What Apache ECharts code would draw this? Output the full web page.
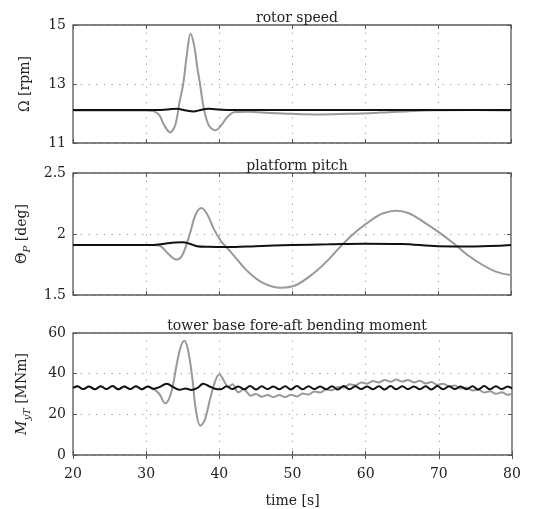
<!DOCTYPE html>
<html><head><meta charset="utf-8">
<script src="https://cdn.jsdelivr.net/npm/echarts@6/dist/echarts.min.js"></script>
<style>html,body{margin:0;padding:0;background:#fff}#c{width:548px;height:509px}</style>
</head><body><div id="c"></div>
<script>
// ---- data ----
const titles = ['rotor speed', 'platform pitch', 'tower base fore-aft bending moment'];
const xTicks = [20, 30, 40, 50, 60, 70, 80];

// rotor speed [rpm]
const rotorGrayT = [20, 30, 31, 31.8, 32.5, 33.3, 34.0, 34.6, 35.1, 35.6, 36.1, 36.6, 37.0, 37.4, 37.9, 38.6, 39.5, 40.3, 41.2, 42.2, 44, 47, 50, 54, 58, 62, 66, 70, 75, 80];
const rotorGrayV = [12.1, 12.1, 12.08, 11.95, 11.6, 11.36, 11.6, 12.4, 13.0, 14.0, 14.7, 14.3, 13.6, 13.0, 12.2, 11.6, 11.43, 11.6, 11.9, 12.05, 12.06, 12.02, 11.99, 11.97, 11.99, 12.03, 12.08, 12.11, 12.12, 12.1];
const rotorBlackT = [20, 30, 32, 33.5, 34.2, 35.5, 36.5, 37.5, 38.5, 39.5, 41, 50, 80];
const rotorBlackV = [12.12, 12.12, 12.12, 12.15, 12.16, 12.1, 12.07, 12.12, 12.16, 12.14, 12.12, 12.12, 12.12];

// platform pitch [deg]
const pitchGrayT = [20, 31, 32, 33, 34.2, 35.0, 36.0, 36.8, 37.6, 38.4, 39.3, 40.3, 41.2, 42.5, 44, 46, 48.4, 50.5, 53, 55, 57, 59, 61, 62.5, 64.3, 66, 68, 70, 72, 74, 76, 78, 80];
const pitchGrayV = [1.91, 1.91, 1.9, 1.84, 1.79, 1.83, 2.0, 2.16, 2.214, 2.16, 2.04, 1.94, 1.88, 1.79, 1.69, 1.6, 1.56, 1.58, 1.68, 1.79, 1.92, 2.03, 2.12, 2.17, 2.19, 2.17, 2.1, 2.02, 1.93, 1.83, 1.75, 1.69, 1.664];
const pitchBlackT = [20, 31, 32.5, 34, 35, 36, 37, 38.5, 41, 45, 50, 55, 60, 65, 70, 75, 80];
const pitchBlackV = [1.91, 1.91, 1.92, 1.93, 1.932, 1.92, 1.9, 1.895, 1.893, 1.9, 1.91, 1.915, 1.92, 1.918, 1.9, 1.898, 1.91];

// tower base moment [MNm]
const towerBlackT = [20.0, 20.6, 21.4, 22.2, 23.0, 23.8, 24.6, 25.4, 26.2, 27.0, 27.8, 28.6, 29.4, 30.2, 31.0, 31.8, 32.8, 33.8, 34.6, 35.4, 36.2, 37.0, 37.8, 38.6, 39.4,
  40.2, 41.0, 41.8, 42.6, 43.4, 44.2, 45.0, 45.8, 46.6, 47.4, 48.2, 49.0, 49.8, 50.6, 51.4, 52.2, 53.0, 53.8, 54.6, 55.4, 56.2, 57.0, 57.8, 58.6, 59.4,
  60.2, 61.0, 61.8, 62.6, 63.4, 64.2, 65.0, 65.8, 66.6, 67.4, 68.2, 69.0, 69.8, 70.6, 71.4, 72.2, 73.0, 73.8, 74.6, 75.4, 76.2, 77.0, 77.8, 78.6, 79.4, 80.0];
const towerBlackV = [33.0, 33.8, 32.4, 33.7, 32.3, 33.8, 32.4, 33.9, 32.3, 33.7, 32.4, 33.8, 32.3, 33.7, 32.5, 33.4, 35.0, 33.2, 32.1, 32.7, 32.0, 33.0, 35.0, 33.8, 32.6,
  32.3, 33.8, 32.4, 33.7, 32.3, 33.9, 32.2, 33.8, 32.4, 33.7, 32.3, 33.8, 32.2, 33.9, 32.3, 33.8, 32.4, 33.7, 32.3, 33.8, 32.2, 33.9, 32.3, 33.8, 32.4,
  33.7, 32.3, 33.8, 32.2, 33.9, 32.3, 33.8, 32.4, 33.7, 32.3, 33.8, 32.2, 33.9, 32.3, 33.8, 32.4, 33.7, 32.3, 33.8, 32.2, 33.9, 32.3, 33.8, 32.4, 33.7, 32.8];
const towerGrayT = [20.0, 20.6, 21.4, 22.2, 23.0, 23.8, 24.6, 25.4, 26.2, 27.0, 27.8, 28.6, 29.4, 30.2, 31.0,
  31.8, 32.6, 33.4, 34.2, 34.7, 35.2, 35.7, 36.3, 36.8, 37.4, 38.0, 38.7, 39.4, 40.0, 40.7, 41.2, 41.8, 42.6, 43.3, 44.3,
  45.0, 45.8, 46.6, 47.4, 48.2, 49.0, 49.8, 50.6, 51.4, 52.2, 53.0, 53.8, 54.6, 55.4, 56.2, 57.0, 57.8, 58.6, 59.4,
  60.2, 61.0, 61.8, 62.6, 63.4, 64.2, 65.0, 65.8, 66.6, 67.4, 68.2, 69.0, 69.8, 70.6, 71.4, 72.2, 73.0, 73.8, 74.6, 75.4, 76.2, 77.0, 77.8, 78.6, 79.4, 80.0];
const towerGrayV = [33.0, 33.8, 32.4, 33.7, 32.3, 33.8, 32.4, 33.9, 32.3, 33.7, 32.4, 33.8, 32.3, 33.7, 32.5,
  30.0, 25.4, 30.5, 45.0, 53.0, 56.2, 52.0, 38.0, 22.0, 14.4, 17.0, 27.0, 36.0, 39.7, 36.0, 33.5, 34.8, 30.8, 32.3, 29.2,
  30.0, 28.7, 29.5, 28.5, 29.5, 28.5, 29.6, 28.8, 30.2, 29.7, 31.2, 30.7, 32.2, 31.8, 33.5, 33.1, 34.8, 34.3, 35.7,
  35.1, 36.4, 35.7, 36.9, 36.0, 37.1, 36.1, 36.9, 35.7, 36.5, 35.2, 35.9, 34.5, 35.1, 33.7, 34.2, 32.7, 33.2, 31.7, 32.2, 30.7, 31.4, 30.1, 30.8, 29.6, 30.2];

// ---- helpers ----
const zip = (t, v) => t.map((x, i) => [x, v[i]]);
const FONT = 'DejaVu Serif';
const FG = '#222';
const FRAME = '#555';
const grids = [
  { left: 73, right: 37, top: 25, height: 118 },
  { left: 73, right: 37, top: 173, height: 122 },
  { left: 73, right: 36, top: 333, height: 123 }
];
const yRanges = [
  { min: 11, max: 15, interval: 2, name: 'Ω [rpm]' },
  { min: 1.5, max: 2.5, interval: 0.5, name: '{a|Θ}{s|P}{a| [deg]}' },
  { min: 0, max: 60, interval: 20, name: '{m|M}{s|yT}{a| [MNm]}' }
];
const tick = { show: true, inside: true, length: 4, lineStyle: { color: FRAME, width: 1 } };
const split = { show: true, lineStyle: { color: '#9a9a9a', type: [1.2, 6.5], width: 1 } };

const xAxis = [], yAxis = [];
grids.forEach((g, i) => {
  xAxis.push({
    type: 'value', gridIndex: i, min: 20, max: 80, interval: 10, position: 'bottom',
    axisLine: { show: false }, axisTick: tick, splitLine: split,
    axisLabel: { show: i === 2, color: FG, fontFamily: FONT, fontSize: 14, margin: 12 },
    name: i === 2 ? 'time [s]' : '', nameLocation: 'middle', nameGap: 39,
    nameTextStyle: { color: FG, fontFamily: FONT, fontSize: 14 }
  });
  xAxis.push({
    type: 'value', gridIndex: i, min: 20, max: 80, interval: 10, position: 'top',
    axisLine: { show: false }, axisTick: tick, splitLine: { show: false }, axisLabel: { show: false }
  });
  const r = yRanges[i];
  yAxis.push({
    type: 'value', gridIndex: i, min: r.min, max: r.max, interval: r.interval, position: 'left',
    axisLine: { show: false }, axisTick: tick, splitLine: split,
    axisLabel: { color: FG, fontFamily: FONT, fontSize: 14, margin: 7 },
    name: r.name, nameLocation: 'middle', nameGap: 41,
    nameTextStyle: {
      color: FG, fontFamily: FONT, fontSize: 14,
      rich: {
        a: { fontFamily: FONT, fontSize: 14, color: FG, lineHeight: 20, verticalAlign: 'middle' },
        m: { fontFamily: FONT, fontSize: 14, color: FG, fontStyle: 'italic', lineHeight: 20, verticalAlign: 'middle' },
        s: { fontFamily: FONT, fontSize: 10, color: FG, fontStyle: 'italic', lineHeight: 20, verticalAlign: 'bottom', padding: [6, 0, 0, 0] }
      }
    }
  });
  yAxis.push({
    type: 'value', gridIndex: i, min: r.min, max: r.max, interval: r.interval, position: 'right',
    axisLine: { show: false }, axisTick: tick, splitLine: { show: false }, axisLabel: { show: false }
  });
});

const line = (i, data, color, z) => ({
  type: 'line', xAxisIndex: 2 * i, yAxisIndex: 2 * i, data, showSymbol: false,
  smooth: 0.35, lineStyle: { color, width: 2 }, z, animation: false, silent: true
});

const series = [
  line(0, zip(rotorGrayT, rotorGrayV), '#999999', 2),
  line(0, zip(rotorBlackT, rotorBlackV), '#111111', 3),
  line(1, zip(pitchGrayT, pitchGrayV), '#999999', 2),
  line(1, zip(pitchBlackT, pitchBlackV), '#111111', 3),
  line(2, zip(towerGrayT, towerGrayV), '#999999', 2),
  line(2, zip(towerBlackT, towerBlackV), '#111111', 3)
];

const titleTops = [6, 154, 314];
const chart = echarts.init(document.getElementById('c'), null, { renderer: 'canvas' });
chart.setOption({
  animation: false,
  backgroundColor: '#fff',
  title: titles.map((t, i) => ({
    text: t, left: 292, top: titleTops[i], textAlign: 'center',
    textStyle: { color: FG, fontFamily: FONT, fontSize: 14, fontWeight: 'normal' }
  })),
  grid: grids.map(g => Object.assign({ show: true, borderColor: FRAME, borderWidth: 1.3, backgroundColor: 'transparent' }, g)),
  xAxis, yAxis, series
});
</script></body></html>
